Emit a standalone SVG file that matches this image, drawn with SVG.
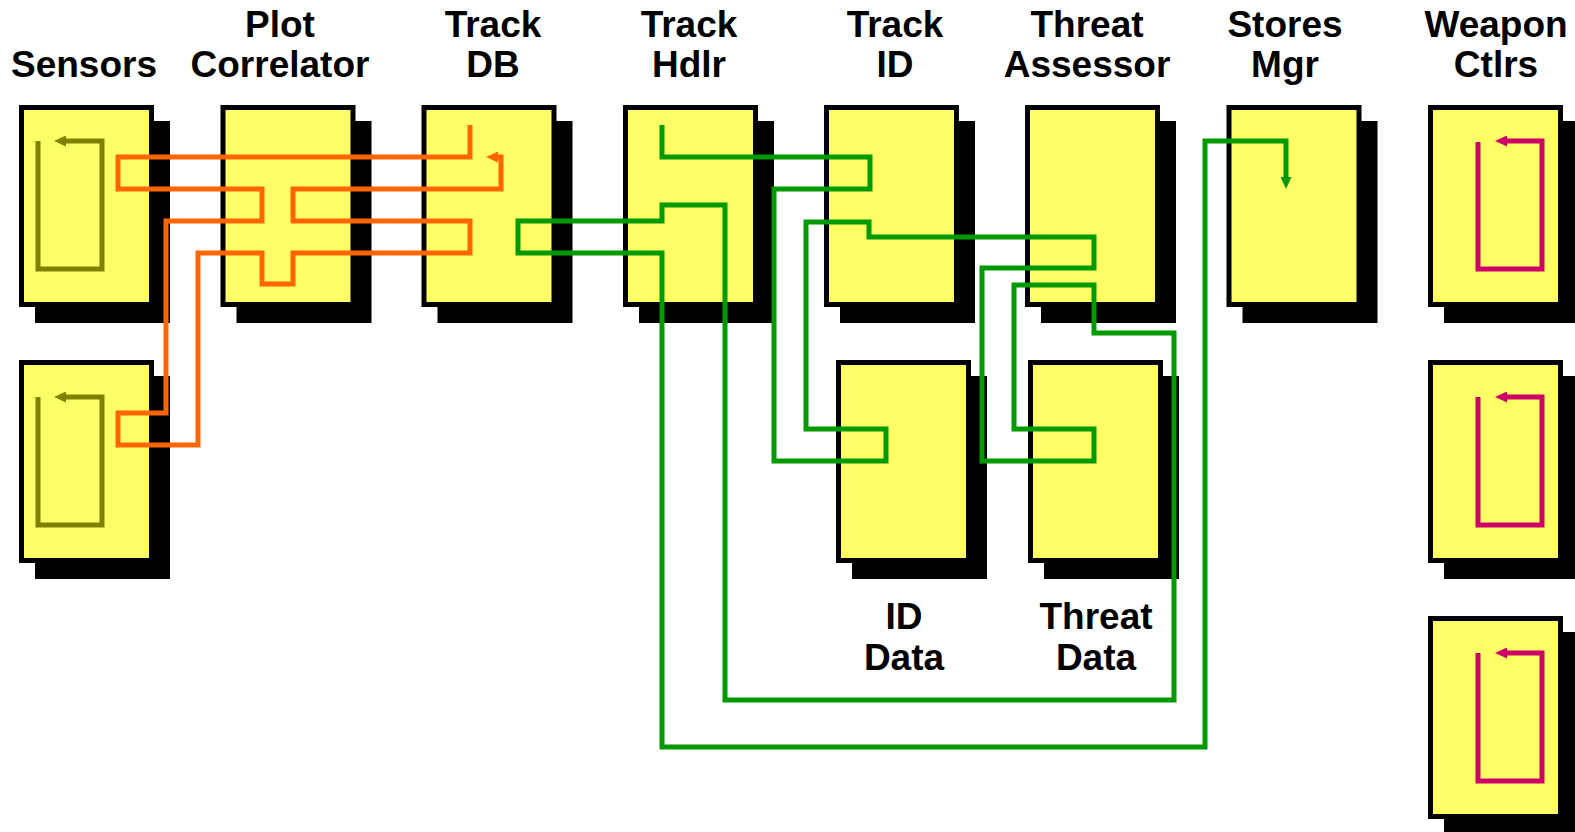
<svg xmlns="http://www.w3.org/2000/svg" width="1575" height="832" viewBox="0 0 1575 832">
<style>
.sh{fill:#000}
.bx{fill:#FFFF66;stroke:#000;stroke-width:5}
.lb{font-family:"Liberation Sans",Arial,sans-serif;font-weight:bold;font-size:37px;fill:#000;text-anchor:middle}
.ln{fill:none;stroke-width:5;stroke-linejoin:miter;stroke-linecap:butt}
.or{stroke:#FF6600}
.gr{stroke:#009900}
.ol{stroke:#808000}
.pk{stroke:#CC0066}
</style>
<defs>
<marker id="aO" viewBox="0 0 12 11" refX="0" refY="5.5" markerWidth="12" markerHeight="11" markerUnits="userSpaceOnUse" orient="auto"><path d="M0,0 L12,5.5 L0,11 z" fill="#FF6600"/></marker>
<marker id="aG" viewBox="0 0 12 11" refX="0" refY="5.5" markerWidth="12" markerHeight="11" markerUnits="userSpaceOnUse" orient="auto"><path d="M0,0 L12,5.5 L0,11 z" fill="#009900"/></marker>
<marker id="aL" viewBox="0 0 12 11" refX="0" refY="5.5" markerWidth="12" markerHeight="11" markerUnits="userSpaceOnUse" orient="auto"><path d="M0,0 L12,5.5 L0,11 z" fill="#808000"/></marker>
<marker id="aP" viewBox="0 0 12 11" refX="0" refY="5.5" markerWidth="12" markerHeight="11" markerUnits="userSpaceOnUse" orient="auto"><path d="M0,0 L12,5.5 L0,11 z" fill="#CC0066"/></marker>
</defs>
<rect width="1575" height="832" fill="#fff"/>

<g id="sensors1">
<rect class="sh" x="35" y="121" width="135" height="202"/>
<rect class="bx" x="21.5" y="107.5" width="130" height="197"/>
<text class="lb" x="84" y="77">Sensors</text>
</g>
<g id="sensors2">
<rect class="sh" x="35" y="376" width="135" height="203"/>
<rect class="bx" x="21.5" y="362.5" width="130" height="198"/>
</g>
<g id="plot-correlator">
<rect class="sh" x="236.5" y="121" width="135" height="202"/>
<rect class="bx" x="223" y="107.5" width="130" height="197"/>
<text class="lb" x="280" y="37">Plot</text>
<text class="lb" x="280" y="77">Correlator</text>
</g>
<g id="track-db">
<rect class="sh" x="437.5" y="121" width="135" height="202"/>
<rect class="bx" x="424" y="107.5" width="130" height="197"/>
<text class="lb" x="493" y="37">Track</text>
<text class="lb" x="493" y="77">DB</text>
</g>
<g id="track-hdlr">
<rect class="sh" x="639" y="121" width="135" height="202"/>
<rect class="bx" x="625.5" y="107.5" width="130" height="197"/>
<text class="lb" x="689" y="37">Track</text>
<text class="lb" x="689" y="77">Hdlr</text>
</g>
<g id="track-id">
<rect class="sh" x="840" y="121" width="135" height="202"/>
<rect class="bx" x="826.5" y="107.5" width="130" height="197"/>
<text class="lb" x="895" y="37">Track</text>
<text class="lb" x="895" y="77">ID</text>
</g>
<g id="threat-assessor">
<rect class="sh" x="1041" y="121" width="135" height="202"/>
<rect class="bx" x="1027.5" y="107.5" width="130" height="197"/>
<text class="lb" x="1087" y="37">Threat</text>
<text class="lb" x="1087" y="77">Assessor</text>
</g>
<g id="stores-mgr">
<rect class="sh" x="1242.5" y="121" width="135" height="202"/>
<rect class="bx" x="1229" y="107.5" width="130" height="197"/>
<text class="lb" x="1285" y="37">Stores</text>
<text class="lb" x="1285" y="77">Mgr</text>
</g>
<g id="weapon-ctlr1">
<rect class="sh" x="1444" y="121" width="135" height="202"/>
<rect class="bx" x="1430.5" y="107.5" width="130" height="197"/>
<text class="lb" x="1496" y="37">Weapon</text>
<text class="lb" x="1496" y="77">Ctlrs</text>
</g>
<g id="weapon-ctlr2">
<rect class="sh" x="1444" y="376" width="135" height="203"/>
<rect class="bx" x="1430.5" y="362.5" width="130" height="198"/>
</g>
<g id="weapon-ctlr3">
<rect class="sh" x="1444" y="632" width="135" height="203"/>
<rect class="bx" x="1430.5" y="618.5" width="130" height="198"/>
</g>
<g id="id-data">
<rect class="sh" x="852" y="376" width="135" height="203"/>
<rect class="bx" x="838.5" y="362.5" width="130" height="198"/>
<text class="lb" x="904" y="629">ID</text>
<text class="lb" x="904" y="670">Data</text>
</g>
<g id="threat-data">
<rect class="sh" x="1044" y="376" width="135" height="203"/>
<rect class="bx" x="1030.5" y="362.5" width="130" height="198"/>
<text class="lb" x="1096" y="629">Threat</text>
<text class="lb" x="1096" y="670">Data</text>
</g>

<g id="connectors">
<path class="ln ol" marker-end="url(#aL)" d="M38,141 V269 H102 V141 H66"/>
<path class="ln ol" marker-end="url(#aL)" d="M38,397 V525 H102 V397 H66"/>
<path class="ln pk" marker-end="url(#aP)" d="M1478,142 V269 H1542 V141 H1507"/>
<path class="ln pk" marker-end="url(#aP)" d="M1478,397 V525 H1542 V397 H1507"/>
<path class="ln pk" marker-end="url(#aP)" d="M1478,653 V781 H1542 V653 H1507"/>
<path class="ln or" marker-end="url(#aO)" d="M470,125 V157 H118 V189 H262 V221 H166 V413 H118 V445 H198 V253 H262 V284 H293 V253 H470 V221 H293 V189 H501 V157 H498"/>
<path class="ln gr" marker-end="url(#aG)" d="M662,125 V157 H870 V189 H774 V461 H886 V429 H806 V222 H869 V237 H1094 V268 H982 V461 H1094 V429 H1014 V285 H1094 V333 H1174 V700 H725 V205 H662 V221 H518 V253 H662 V747 H1205 V141 H1286 V177"/>
</g>
</svg>
